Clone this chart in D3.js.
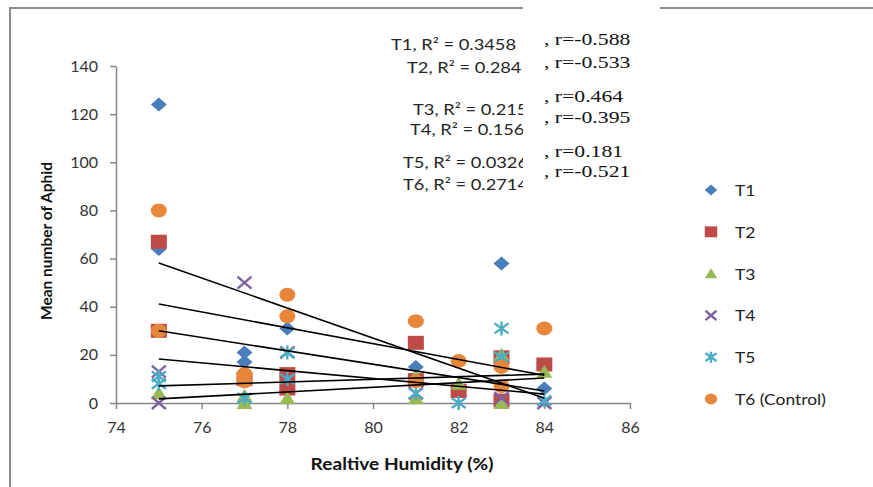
<!DOCTYPE html>
<html>
<head>
<meta charset="utf-8">
<script src="https://cdn.jsdelivr.net/npm/d3@7"></script>
<style>
  body { margin: 0; background: #fff; }
  svg { display: block; }
</style>
</head>
<body>
<svg id="chart" width="873" height="487"></svg>
<script>
// values
var seriesNames = ["T1", "T2", "T3", "T4", "T5", "T6 (Control)"];

var rhT1 = [75, 75, 77, 77, 78, 81, 83, 84];
var aphidT1 = [124, 64, 21, 17, 31, 15, 58, 6];
var rhT2 = [75, 75, 77, 78, 78, 81, 81, 82, 83, 83, 84];
var aphidT2 = [67, 30, 10, 12, 6, 25, 9.5, 5, 19, 1, 16];
var rhT3 = [75, 77, 77, 78, 81, 81, 82, 83, 83, 84];
var aphidT3 = [4, 3, 0, 2, 11, 2, 8, 20, 0, 13];
var rhT4 = [75, 75, 77, 78, 81, 83, 84];
var aphidT4 = [13, 0, 50, 21, 4, 2, 0];
var rhT5 = [75, 75, 77, 78, 78, 81, 82, 83, 83, 84];
var aphidT5 = [11, 8, 2, 21, 10, 4, 0, 31, 19, 1];
var rhT6 = [75, 75, 77, 77, 78, 78, 81, 81, 82, 83, 83, 84];
var aphidT6 = [80, 30, 12, 9, 45, 36, 34, 9, 17.5, 15, 7, 31];

// linear trend lines, value at first and last humidity
var trendRH = [75, 84];
var trendT1 = [58.2, 2.0];
var trendT2 = [30.0, 5.0];
var trendT3 = [1.7, 10.4];
var trendT4 = [18.3, 3.7];
var trendT5 = [7.1, 12.0];
var trendT6 = [41.1, 11.5];

var r2Labels = ["T1, R\u00b2 = 0.3458", "T2, R\u00b2 = 0.2841", "T3, R\u00b2 = 0.2153",
                "T4, R\u00b2 = 0.1561", "T5, R\u00b2 = 0.0326", "T6, R\u00b2 = 0.2714"];
var rLabels = [", r=-0.588", ", r=-0.533", ", r=0.464", ", r=-0.395", ", r=0.181", ", r=-0.521"];

var xTicks = [74, 76, 78, 80, 82, 84, 86];
var yTicks = [0, 20, 40, 60, 80, 100, 120, 140];

var colors = ["#4A7EBB", "#BE4B48", "#98B954", "#7F63A1", "#4BACC6", "#E8873A"];
var shapes = ["diamond", "square", "triangle", "x", "star", "circle"];

var rhAll = [rhT1, rhT2, rhT3, rhT4, rhT5, rhT6];
var aphidAll = [aphidT1, aphidT2, aphidT3, aphidT4, aphidT5, aphidT6];
var trendAll = [trendT1, trendT2, trendT3, trendT4, trendT5, trendT6];

var svg = d3.select("#chart");
var stretch = 1.16; // text in the picture is a bit wide

var x = d3.scaleLinear().domain([74, 86]).range([116, 630]);
var y = d3.scaleLinear().domain([0, 140]).range([403, 66]);

// outer frame (left and top only)
svg.append("path")
  .attr("d", "M10,487 L10,8 L873,8")
  .attr("fill", "none")
  .attr("stroke", "#8c8c8c")
  .attr("stroke-width", 2);

// axes
var gx = svg.append("g")
  .attr("transform", "translate(0," + y(0) + ")")
  .call(d3.axisBottom(x).tickValues(xTicks).tickSize(6).tickSizeOuter(0).tickPadding(13));
var gy = svg.append("g")
  .attr("transform", "translate(" + x(74) + ",0)")
  .call(d3.axisLeft(y).tickValues(yTicks).tickSize(6).tickSizeOuter(0).tickPadding(12));
[gx, gy].forEach(function(g) {
  g.select(".domain").attr("stroke", "#868686").attr("stroke-width", 1.5);
  g.selectAll(".tick line").attr("stroke", "#868686").attr("stroke-width", 1.5);
  g.selectAll(".tick text")
    .attr("fill", "#333")
    .style("font-family", "Lato, 'Open Sans', sans-serif")
    .style("font-size", "16px");
});

// axis titles
svg.append("text")
  .attr("transform", "translate(402,470) scale(" + stretch + ",1)")
  .attr("text-anchor", "middle")
  .style("font-family", "Lato, sans-serif")
  .style("font-weight", "bold")
  .style("font-size", "16.5px")
  .attr("fill", "#111")
  .text("Realtive Humidity (%)");
svg.append("text")
  .attr("transform", "translate(52,241) rotate(-90)")
  .attr("text-anchor", "middle")
  .style("font-family", "Lato, sans-serif")
  .style("font-weight", "bold")
  .style("font-size", "15.5px")
  .attr("fill", "#111")
  .text("Mean number of Aphid");

// marker drawing
function drawMarker(g, shape, color, k) {
  if (shape == "diamond") {
    g.append("path").attr("d", "M0,-7L8,0L0,7L-8,0Z").attr("fill", color)
      .attr("transform", "scale(" + k + ")");
  } else if (shape == "square") {
    g.append("rect").attr("x", -8 * k).attr("y", -7 * k)
      .attr("width", 16 * k).attr("height", 14 * k).attr("fill", color);
  } else if (shape == "triangle") {
    g.append("path").attr("d", "M0,-7L8,6L-8,6Z").attr("fill", color)
      .attr("transform", "scale(" + k + ")");
  } else if (shape == "x") {
    g.append("path").attr("d", "M-7,-6L7,6M-7,6L7,-6")
      .attr("stroke", color).attr("stroke-width", 2.4 / k).attr("fill", "none")
      .attr("transform", "scale(" + k + ")");
  } else if (shape == "star") {
    g.append("path").attr("d", "M-7,-5L7,5M-7,5L7,-5M0,-7L0,7")
      .attr("stroke", color).attr("stroke-width", 2.4 / k).attr("fill", "none")
      .attr("transform", "scale(" + k + ")");
  } else {
    g.append("ellipse").attr("rx", 8 * k).attr("ry", 7 * k).attr("fill", color);
  }
}

// points
seriesNames.forEach(function(name, i) {
  var pts = rhAll[i].map(function(rh, j) { return {rh: rh, v: aphidAll[i][j]}; });
  var sg = svg.append("g");
  pts.forEach(function(d) {
    var g = sg.append("g").attr("transform", "translate(" + x(d.rh) + "," + y(d.v) + ")");
    drawMarker(g, shapes[i], colors[i], 1);
  });
});

// trend lines on top
var line = d3.line()
  .x(function(d) { return x(d.rh); })
  .y(function(d) { return y(d.v); });
trendAll.forEach(function(t) {
  svg.append("path")
    .datum(trendRH.map(function(rh, j) { return {rh: rh, v: t[j]}; }))
    .attr("fill", "none")
    .attr("stroke", "#000")
    .attr("stroke-width", 1.6)
    .attr("d", line);
});

// legend
seriesNames.forEach(function(name, i) {
  var ly = 190 + i * 41.8;
  var g = svg.append("g").attr("transform", "translate(711," + ly + ")");
  drawMarker(g, shapes[i], colors[i], 0.78);
  svg.append("text")
    .attr("transform", "translate(735," + (ly + 6) + ") scale(" + stretch + ",1)")
    .style("font-family", "Lato, sans-serif")
    .style("font-size", "15px")
    .attr("fill", "#222")
    .text(name);
});

// R² labels (partly hidden under the r text box)
var r2X = [391, 407, 413, 410, 403, 403];
var r2Y = [50, 73, 115, 135, 168, 190];
r2Labels.forEach(function(s, i) {
  svg.append("text")
    .attr("transform", "translate(" + r2X[i] + "," + r2Y[i] + ") scale(1.18,1)")
    .style("font-family", "Lato, sans-serif")
    .style("font-size", "15.5px")
    .attr("fill", "#262626")
    .text(s);
});

svg.append("rect")
  .attr("x", 523).attr("y", 2)
  .attr("width", 137).attr("height", 198)
  .attr("fill", "#fff");

var rY = [45, 68, 102, 123, 157, 177];
rLabels.forEach(function(s, i) {
  svg.append("text")
    .attr("transform", "translate(544," + rY[i] + ") scale(1.24,1)")
    .style("font-family", "'Liberation Serif', 'DejaVu Serif', serif")
    .style("font-size", "17.5px")
    .attr("fill", "#111")
    .text(s);
});
</script>
</body>
</html>
